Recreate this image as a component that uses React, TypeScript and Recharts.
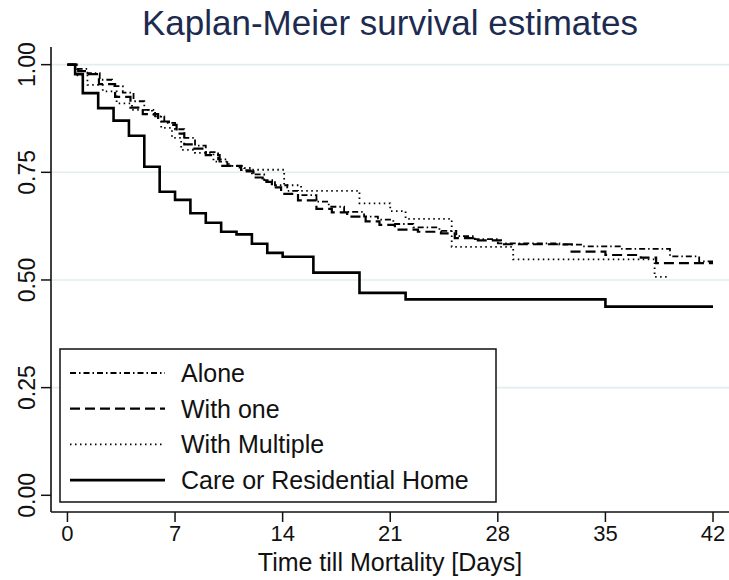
import React from 'react';
import { LineChart, Line, XAxis, YAxis, ReferenceLine } from 'recharts';

// Kaplan-Meier step values
const aloneDays = [0, 0.6, 1.3, 2.1, 2.9, 3.6, 4.3, 5.0, 5.7, 6.3, 7.0, 7.6, 8.3, 9.0, 9.8, 10.4, 11.2, 12.0, 12.8, 13.5, 14.3, 15.0, 16.2, 17.0, 18.0, 19.3, 20.2, 21.2, 22.5, 24.2, 25.3, 26.5, 28.0, 32.0, 33.5, 36.0, 39.2, 41.1, 42.0];
const aloneSurv = [1.0, 0.99, 0.98, 0.965, 0.95, 0.935, 0.915, 0.895, 0.88, 0.865, 0.85, 0.83, 0.812, 0.797, 0.78, 0.765, 0.755, 0.745, 0.732, 0.72, 0.707, 0.697, 0.682, 0.67, 0.658, 0.647, 0.64, 0.63, 0.622, 0.614, 0.602, 0.595, 0.585, 0.582, 0.578, 0.572, 0.555, 0.543, 0.543];

const withOneDays = [0, 0.7, 1.3, 2.05, 3.1, 4.1, 4.9, 5.9, 6.6, 7.1, 7.6, 8.2, 9.0, 9.9, 11.3, 12.1, 12.7, 13.3, 13.9, 15.0, 16.2, 17.2, 18.2, 19.4, 20.3, 21.3, 22.8, 24.3, 25.2, 26.6, 28.2, 32.8, 35.0, 37.3, 38.3, 42.0];
const withOneSurv = [1.0, 0.985, 0.978, 0.955, 0.925, 0.9, 0.885, 0.868, 0.86, 0.84, 0.815, 0.805, 0.79, 0.765, 0.752, 0.738, 0.728, 0.715, 0.7, 0.685, 0.665, 0.657, 0.647, 0.636, 0.628, 0.617, 0.612, 0.608, 0.597, 0.592, 0.583, 0.566, 0.558, 0.552, 0.539, 0.539];

const multipleDays = [0, 0.5, 1.3, 2.3, 3.2, 4.2, 5.5, 6.1, 6.8, 7.4, 8.3, 9.5, 10.5, 11.5, 12.0, 14.1, 15.2, 19.0, 21.0, 22.0, 25.0, 29.0, 38.2, 39.0];
const multipleSurv = [1.0, 0.975, 0.953, 0.938, 0.91, 0.895, 0.884, 0.853, 0.83, 0.802, 0.795, 0.775, 0.765, 0.76, 0.756, 0.72, 0.707, 0.678, 0.66, 0.642, 0.577, 0.548, 0.507, 0.507];

const careDays = [0, 0.5, 1.0, 2.0, 3.0, 4.0, 5.0, 6.0, 7.0, 8.0, 9.0, 10.0, 11.0, 12.0, 13.0, 14.0, 16.0, 19.0, 22.0, 35.0, 42.0];
const careSurv = [1.0, 0.978, 0.934, 0.899, 0.87, 0.835, 0.763, 0.705, 0.686, 0.655, 0.633, 0.612, 0.606, 0.584, 0.563, 0.554, 0.517, 0.47, 0.455, 0.438, 0.438];

const xTicks = [0, 7, 14, 21, 28, 35, 42];
const yTicks = [0, 0.25, 0.5, 0.75, 1];
const gridValues = [0.25, 0.5, 0.75, 1];

const FONT = "'Liberation Sans', Arial, Helvetica, sans-serif";

const toRows = (days: number[], surv: number[]) => days.map((t, i) => ({ t, s: surv[i] }));

const series = [
    { name: 'Alone', data: toRows(aloneDays, aloneSurv), dash: '6 3 1.5 3', width: 1.8 },
    { name: 'With one', data: toRows(withOneDays, withOneSurv), dash: '10 5', width: 2.2 },
    { name: 'With Multiple', data: toRows(multipleDays, multipleSurv), dash: '1.5 3.5', width: 1.8 },
    { name: 'Care or Residential Home', data: toRows(careDays, careSurv), dash: undefined, width: 2.6 },
];

const XTick = ({ x, payload }: any) => (
    <text x={x} y={541} textAnchor="middle" fontSize={22} fontFamily={FONT} fill="#111">
        {payload.value}
    </text>
);

const YTick = ({ y, payload }: any) => (
    <text x={35} y={y} transform={`rotate(-90, 35, ${y})`} textAnchor="middle" fontSize={23} fontFamily={FONT} fill="#111">
        {Number(payload.value).toFixed(2)}
    </text>
);

export default function App() {
    return (
        <div style={{ position: 'absolute', left: 0, top: 0, width: 729, height: 580, background: '#fff' }}>
            <LineChart width={729} height={580} margin={{ top: 47, right: 0, left: 0, bottom: 0 }}>
                {gridValues.map((v) => (
                    <ReferenceLine key={v} y={v} stroke="#e3ecef" strokeWidth={1.6} />
                ))}
                <XAxis
                    dataKey="t"
                    type="number"
                    domain={[-1.07, 43.04]}
                    ticks={xTicks}
                    allowDataOverflow
                    height={68}
                    tickSize={10}
                    tick={<XTick />}
                    tickLine={{ stroke: '#111', strokeWidth: 1.5 }}
                    axisLine={{ stroke: '#111', strokeWidth: 1.6 }}
                />
                <YAxis
                    type="number"
                    domain={[-0.0388, 1.041]}
                    ticks={yTicks}
                    allowDataOverflow
                    width={51}
                    tickSize={10}
                    tick={<YTick />}
                    tickLine={{ stroke: '#111', strokeWidth: 1.5 }}
                    axisLine={{ stroke: '#111', strokeWidth: 1.6 }}
                />
                {series.map((s) => (
                    <Line
                        key={s.name}
                        data={s.data}
                        dataKey="s"
                        name={s.name}
                        type="stepAfter"
                        stroke="#000"
                        strokeWidth={s.width}
                        strokeDasharray={s.dash}
                        dot={false}
                        activeDot={false}
                        isAnimationActive={false}
                    />
                ))}
            </LineChart>
            <svg width={729} height={580} style={{ position: 'absolute', left: 0, top: 0, pointerEvents: 'none' }}>
                <text x={390} y={35} textAnchor="middle" fontSize={35} fontFamily={FONT} fill="#1c2b4f">
                    Kaplan-Meier survival estimates
                </text>
                <text x={390} y={571} textAnchor="middle" fontSize={25} fontFamily={FONT} fill="#111">
                    Time till Mortality [Days]
                </text>
                <rect x={60} y={349} width={436} height={153} fill="#fff" stroke="#111" strokeWidth={1.5} />
                {series.map((s, i) => {
                    const cy = 373 + i * 35.7;
                    return (
                        <g key={s.name}>
                            <line x1={70} x2={165} y1={cy} y2={cy} stroke="#000" strokeWidth={s.width} strokeDasharray={s.dash} />
                            <text x={181} y={cy} dominantBaseline="central" fontSize={25} fontFamily={FONT} fill="#111">
                                {s.name}
                            </text>
                        </g>
                    );
                })}
            </svg>
        </div>
    );
}
